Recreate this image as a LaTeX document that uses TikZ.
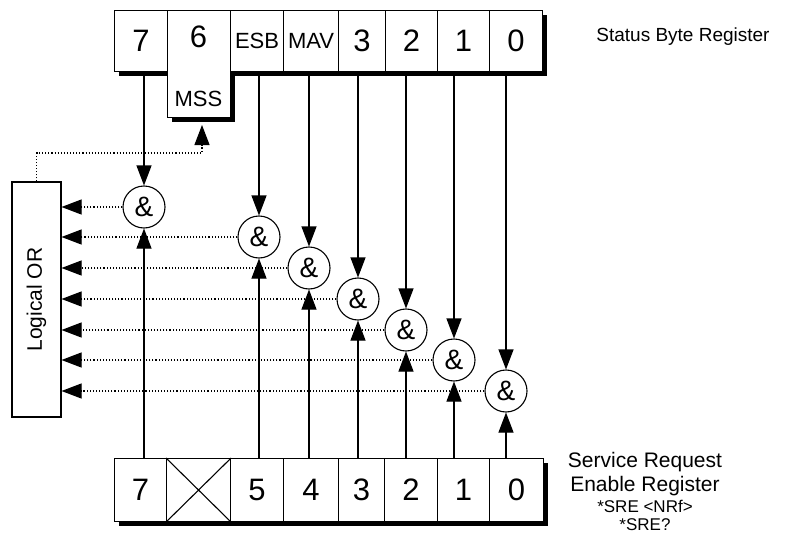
\documentclass[tikz,border=0pt]{standalone}
\usepackage{fontspec}
\setmainfont{Liberation Sans}
\usetikzlibrary{arrows.meta}

\tikzset{
  cell/.style={draw, fill=white, line width=1.1pt, inner sep=0pt, anchor=north west,
    minimum height=61pt, font=\fontsize{31}{31}\selectfont},
  gate/.style={draw, circle, fill=white, line width=1.1pt, inner sep=0pt,
    minimum size=42pt, font=\fontsize{28}{28}\selectfont},
  wire/.style={line width=1.1pt, -{Triangle[length=20pt,width=15pt]}},
  orwire/.style={wire, dotted},
}

\begin{document}
\begin{tikzpicture}[x=1pt, y=-1pt]
% Coordinate model: 1pt per pixel of the 793x543 drawing, y grows downwards.
\useasboundingbox (0,0) rectangle (793,543);
\def\midfont{\fontsize{22}{22}\selectfont}

% --- Shadows (black offset behind the registers) ---
\fill (119,15) rectangle (547,76);
\fill (172,76) rectangle (235,122);
\fill (119,463) rectangle (548,526);

% --- Status Byte Register ---
\node[cell, minimum width=53pt] (sb7) at (114,10) {7};
\node[cell, minimum width=63pt, minimum height=107pt] (sb6) at (167,10) {};
\node[font=\fontsize{31}{31}\selectfont] (lab6) at (198.5,37) {6};
\node[font=\midfont] (mss) at (198.5,99) {MSS};
\node[cell, minimum width=53pt, font=\midfont] (sb5) at (230,10) {ESB};
\node[cell, minimum width=55pt, font=\midfont] (sb4) at (283,10) {MAV};
\node[cell, minimum width=47pt] (sb3) at (338,10) {3};
\node[cell, minimum width=52pt] (sb2) at (385,10) {2};
\node[cell, minimum width=52pt] (sb1) at (437,10) {1};
\node[cell, minimum width=53pt] (sb0) at (489,10) {0};
\node[anchor=base, font=\fontsize{19}{19}\selectfont] (sbrtitle) at (683,42) {Status Byte Register};

% --- Service Request Enable Register ---
\node[cell, minimum width=52pt, minimum height=63pt] (sr7) at (114,458) {7};
\node[cell, minimum width=64pt, minimum height=63pt] (srx) at (166,458) {};
\draw[line width=1.1pt] (srx.north west) -- (srx.south east)
                        (srx.south west) -- (srx.north east);
\node[cell, minimum width=53pt, minimum height=63pt] (sr5) at (230,458) {5};
\node[cell, minimum width=55pt, minimum height=63pt] (sr4) at (283,458) {4};
\node[cell, minimum width=46pt, minimum height=63pt] (sr3) at (338,458) {3};
\node[cell, minimum width=53pt, minimum height=63pt] (sr2) at (384,458) {2};
\node[cell, minimum width=52pt, minimum height=63pt] (sr1) at (437,458) {1};
\node[cell, minimum width=54pt, minimum height=63pt] (sr0) at (489,458) {0};
\node[anchor=base, font=\fontsize{21}{21}\selectfont] (srtitle) at (645,467) {Service Request};
\node[anchor=base, font=\fontsize{21}{21}\selectfont] (srtitleb) at (645,491) {Enable Register};
\node[anchor=base, font=\fontsize{17}{17}\selectfont] (srcmd) at (645,512) {*SRE <NRf>};
\node[anchor=base, font=\fontsize{17}{17}\selectfont] (srquery) at (645,530) {*SRE?};

% --- Logical OR ---
\node[draw, line width=1.1pt, minimum width=49pt, minimum height=235pt] (lor) at (36.5,299.5) {};
\node[rotate=90, font=\fontsize{21}{21}\selectfont] (lortext) at (lor.center) {Logical OR};

% --- AND gates ---
\node[gate] (and7) at (144,207) {\&};
\node[gate] (and5) at (259,237) {\&};
\node[gate] (and4) at (309,268) {\&};
\node[gate] (and3) at (358,299) {\&};
\node[gate] (and2) at (406,330) {\&};
\node[gate] (and1) at (454,360) {\&};
\node[gate] (and0) at (506,391) {\&};

% --- Status bits and enable bits into the gates ---
\foreach \b in {7,5,4,3,2,1,0} {
  \draw[wire] (and\b |- sb7.south) -- (and\b.north);
  \draw[wire] (and\b |- sr7.north) -- (and\b.south);
  \draw[orwire] (and\b.west) -- (and\b.west -| lor.east);
}

% --- OR output back to MSS ---
\coordinate (mssbend) at (202,153);
\coordinate (msstip) at (202,125);
\draw[orwire] (lor.north) |- (mssbend) -- (msstip);
\end{tikzpicture}
\end{document}
